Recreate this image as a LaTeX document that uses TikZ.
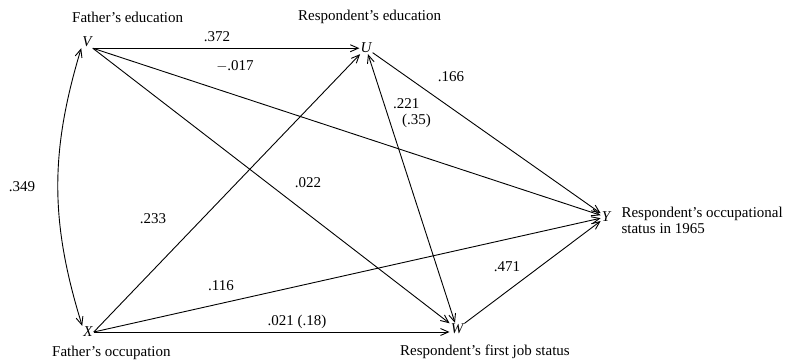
\documentclass[tikz,border=0pt]{standalone}
\usepackage{fontspec}
\setmainfont{Liberation Serif}
\usetikzlibrary{arrows.meta, positioning}

\begin{document}
\begin{tikzpicture}[x=1pt, y=-1pt, node distance=4pt and 6pt,
        var/.style={inner sep=1pt, font=\fontsize{15}{17}\selectfont\itshape},
        lbl/.style={inner sep=0pt, font=\fontsize{15}{16}\selectfont},
        coef/.style={inner sep=1pt, font=\fontsize{15}{16}\selectfont},
        arr/.style={-{Straight Barb[length=8pt, width=7pt]}, line width=0.9pt},
        dbl/.style={{Straight Barb[length=8pt, width=7pt]}-{Straight Barb[length=8pt, width=7pt]}, line width=0.9pt}]

                \useasboundingbox (0,0) rectangle (794,361);

                % Nodes
                \node (V) [var] at (87,42) {V};
                \node (U) [var] at (366,48) {U};
                \node (X) [var] at (88,332) {X};
                \node (W) [var] at (457,329) {W};
                \node (Y) [var] at (606,217) {Y};

                % Labels
                \node (Vlbl) [lbl, anchor=west] at (72,17) {Father's education};
                \node (Ulbl) [lbl, anchor=west] at (298,17) {Respondent's education};
                \node (Xlbl) [lbl, anchor=west] at (52,353) {Father's occupation};
                \node (Wlbl) [lbl, anchor=west] at (400,352) {Respondent's first job status};
                \node (Ylbl) [lbl, right=10pt of Y, yshift=-3pt, align=left] {Respondent's occupational\\status in 1965};

                % Coefficients
                \node (cVU) [coef] at (217,37) {.372};
                \node (cVY) [coef] at (235,66) {$-$.017};
                \node (cUY) [coef] at (451,77) {.166};
                \node (cUW) [coef, align=left] at (412,113) {.221\\\hspace{9pt}(.35)};
                \node (cVW) [coef] at (308,183) {.022};
                \node (cXU) [coef] at (153,219) {.233};
                \node (cVX) [coef] at (22,187) {.349};
                \node (cXY) [coef] at (221,286) {.116};
                \node (cXW) [coef] at (297,322) {.021 (.18)};
                \node (cWY) [coef] at (507,267) {.471};

                % Edges
                \draw[arr] (V.south east) -- (V.south east -| U.west);
                \draw[arr] (V.south east) -- (W);
                \draw[arr] (V.south east) -- (Y);
                \draw[arr] (X.east) -- (U);
                \draw[arr] (X.east) -- (Y);
                \draw[arr] (X.east) -- (X.east -| W.west);
                \draw[arr] (U) -- (Y);
                \draw[arr] (W) -- (Y);
                \draw[dbl] (U) -- (W);
                \draw[dbl] (V.south west) to[bend right=17] (X.north west);
            \end{tikzpicture}
\end{document}
